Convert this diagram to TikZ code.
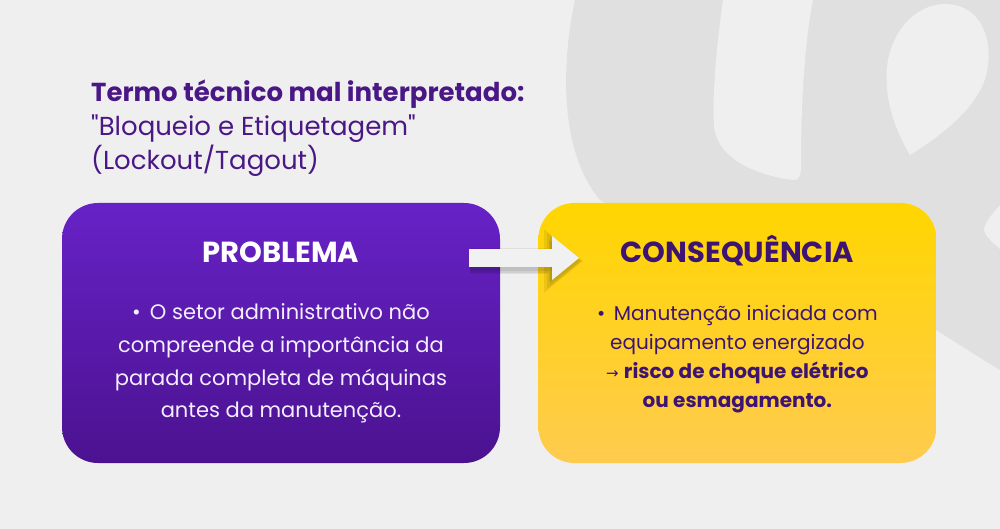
\documentclass[tikz,border=0pt]{standalone}
\usepackage{fontspec}
\setmainfont{Poppins}
\newfontfamily\arrowfont{DejaVu Sans}
\usetikzlibrary{positioning,arrows.meta}
\definecolor{bggray}{HTML}{EFEFEF}
\definecolor{shapegray}{HTML}{E0E0E0}
\definecolor{probtop}{HTML}{6722C6}
\definecolor{probbot}{HTML}{4B1290}
\definecolor{constop}{HTML}{FFD600}
\definecolor{consbot}{HTML}{FFCB4F}
\definecolor{inkpurple}{HTML}{4A1886}
\definecolor{consink}{HTML}{3E1473}
\definecolor{problight}{HTML}{F4EEFF}
\definecolor{arrowfill}{HTML}{F1F1F1}
\tikzset{
  cardbox/.style={rectangle, rounded corners=36pt, minimum width=438pt, minimum height=260pt, inner sep=0pt},
  probbox/.style={cardbox, top color=probtop, bottom color=probbot},
  consbox/.style={cardbox, minimum width=398pt, top color=constop, bottom color=consbot},
  titletxt/.style={align=left, inner sep=0pt, text=inkpurple, font=\fontsize{26}{34}\selectfont},
  headtxt/.style={inner sep=0pt, font=\bfseries\fontsize{29}{34}\selectfont},
  bodytxt/.style={align=center, inner sep=0pt},
  flowarrow/.style={draw=arrowfill, line width=18pt, -{Triangle[length=0pt 1.5, width=0pt 2.33]}},
  flowshadow/.style={draw=black, opacity=.07, line width=#1, -{Triangle[length=0pt 1.5, width=0pt 2.33]}},
}
\begin{document}
\begin{tikzpicture}[x=1pt,y=-1pt]
  \useasboundingbox (0,0) rectangle (1000,529);
  \fill[bggray] (0,0) rectangle (1000,529);
  % background mark
  \begin{scope}
    \clip (0,0) rectangle (1000,529);
    \fill[shapegray] (575,0) .. controls (562,60) and (558,150) .. (600,200) -- (700,260) -- (936,330)
      .. controls (960,345) and (980,358) .. (1000,370) -- (1000,0) -- cycle;
    \fill[bggray] (723,0) .. controls (716,50) and (712,100) .. (714,125) .. controls (716,160) and (760,176) .. (793,180)
      .. controls (802,180) and (801,170) .. (801,160) .. controls (801,100) and (805,40) .. (813,0) -- cycle;
    \fill[bggray] (910,155) .. controls (895,130) and (882,95) .. (888,60) .. controls (895,25) and (920,4) .. (945,4)
      .. controls (975,4) and (992,30) .. (988,65) .. controls (985,100) and (950,130) .. (910,155) -- cycle;
    \fill[bggray] (1000,205) .. controls (992,214) and (984,224) .. (984,230) .. controls (985,236) and (992,242) .. (1000,249) -- cycle;
  \end{scope}

  \node[titletxt, anchor=base west] (termo) at (91,170)
    {{\bfseries Termo técnico mal interpretado:}\\\textquotedbl Bloqueio e Etiquetagem\textquotedbl\\(Lockout/Tagout)};

  \node[probbox] (prob) at (281,333) {};
  \node[consbox, right=38pt of prob] (cons) {};

  \node[headtxt, text=white, anchor=base] (probhead) at ([yshift=-60pt]prob.north) {PROBLEMA};
  \node[headtxt, text=consink, anchor=base] (conshead) at ([yshift=-60pt]cons.north) {CONSEQUÊNCIA};

  \node[bodytxt, text=problight, font=\fontsize{21}{32.7}\selectfont, anchor=base] (probtxt) at ([yshift=-215pt]prob.north)
    {•\, O setor administrativo não\\compreende a importância da\\parada completa de máquinas\\antes da manutenção.};
  \node[bodytxt, text=consink, font=\fontsize{20}{29}\selectfont, anchor=base] (constxt) at ([yshift=-205pt]cons.north)
    {•\, Manutenção iniciada com\\equipamento energizado\\{\arrowfont\fontsize{15}{29}\selectfont→} \textbf{risco de choque elétrico}\\\textbf{ou esmagamento.}};

  % arrow between the cards
  \coordinate (atail) at ([xshift=-31pt,yshift=75pt]prob.east);
  \coordinate (atip) at ([xshift=41pt,yshift=75pt]cons.west);
  \foreach \s in {8,5,2}
    \draw[flowshadow=18pt+\s pt] ([xshift=1pt,yshift=-3pt]atail) -- ([xshift=\s pt/2,yshift=-3pt]atip);
  \draw[flowarrow] (atail) -- (atip);
\end{tikzpicture}
\end{document}
